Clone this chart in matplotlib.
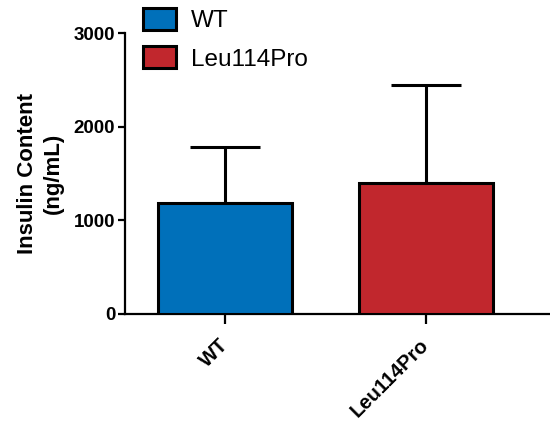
import matplotlib.pyplot as plt
import numpy as np

plt.rcParams['font.family'] = ['Liberation Sans', 'DejaVu Sans']

groups = ['WT', 'Leu114Pro']
means = [1180, 1400]
errors = [600, 1045]
colors = ['#0070BA', '#C1272D']

fig = plt.figure(figsize=(5.5, 4.26), dpi=100)
ax = fig.add_axes([125 / 550, 1 - 314 / 426, 1 - 125 / 550, (314 - 33) / 426])

x = np.arange(len(groups))
bars = ax.bar(x, means, width=0.67, color=colors, edgecolor='black', linewidth=2.2,
              label=groups, zorder=3)
# only the upper half of the error bar is drawn
ax.errorbar(x, means, yerr=[np.zeros(len(means)), errors], fmt='none', ecolor='black',
            elinewidth=2.2, capsize=25, capthick=2.2, zorder=2)

ax.set_xlim(-0.4975, 1.617)
ax.set_ylim(0, 3000)
ax.set_yticks([0, 1000, 2000, 3000])
ax.set_xticks(x)
ax.set_xticklabels(groups, rotation=45, ha='right', va='center', rotation_mode='anchor',
                   fontsize=14.5, fontweight='bold')
for lab in ax.get_yticklabels():
    lab.set_fontweight('bold')
    lab.set_fontsize(13.5)

for s in ['top', 'right']:
    ax.spines[s].set_visible(False)
for s in ['left', 'bottom']:
    ax.spines[s].set_linewidth(1.6)
ax.tick_params(axis='y', length=5, width=1.6, pad=2)
ax.tick_params(axis='x', length=7, width=1.6, pad=13)

ax.set_ylabel('Insulin Content\n(ng/mL)', fontsize=16, fontweight='bold', labelpad=7,
              linespacing=1.3)

fig.legend(handles=list(bars), labels=groups, loc='upper left',
           bbox_to_anchor=(143 / 550, 1 - 8 / 426), frameon=False, fontsize=17.5,
           handlelength=1.35, handleheight=1.0, handletextpad=0.62, labelspacing=0.58,
           borderaxespad=0, borderpad=0)

fig.savefig('out.png', dpi=100)
